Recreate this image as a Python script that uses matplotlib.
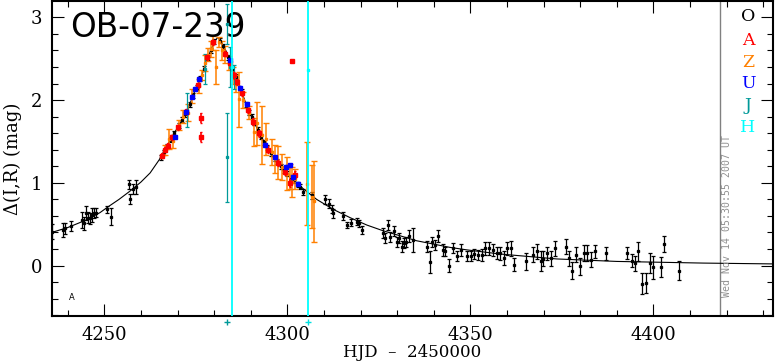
import matplotlib
matplotlib.use("Agg")
import matplotlib.pyplot as plt

# model curve
model_t = [4235.6, 4240, 4245, 4248.8, 4251, 4254, 4257, 4260, 4262.5, 4265,
           4268, 4270.7, 4272.9, 4274.8, 4276.6, 4277.9, 4279.3, 4280.3, 4281.0,
           4282.0, 4283.4, 4284.5, 4285.8, 4287.1, 4288.4, 4289.8, 4291.6, 4293.4,
           4296.1, 4298.9, 4301.6, 4304.3, 4308, 4312.5, 4317.1, 4321.7, 4326.2,
           4330.8, 4335.3, 4339.9, 4344.4, 4349, 4358, 4373.6, 4390, 4413.6, 4432.7]
model_m = [0.40, 0.46, 0.55, 0.64, 0.71, 0.80, 0.90, 1.01, 1.12, 1.28,
           1.52, 1.72, 1.90, 2.12, 2.30, 2.47, 2.63, 2.72, 2.76,
           2.70, 2.58, 2.44, 2.30, 2.16, 1.99, 1.84, 1.67, 1.50,
           1.31, 1.15, 1.04, 0.93, 0.80, 0.68, 0.58, 0.49, 0.42,
           0.36, 0.30, 0.26, 0.22, 0.19, 0.14, 0.08, 0.05, 0.03, 0.02]

# O (black)
o_t = [4235.6, 4238.8, 4239.2, 4240.9, 4244.0, 4244.5, 4245.0, 4245.4, 4246.1, 4246.7,
       4247.2, 4247.7, 4250.8, 4251.8, 4256.7, 4257.0, 4257.7, 4258.6,
       4265.5, 4266.2, 4267.0, 4268.2, 4269.0, 4270.3, 4271.2, 4272.0, 4273.3, 4274.3,
       4275.2, 4276.2, 4277.2, 4278.3, 4279.0, 4280.0, 4281.5, 4282.5,
       4283.8, 4285.0, 4286.0, 4287.5, 4288.8, 4289.6, 4290.2, 4291.0, 4292.0, 4292.8,
       4293.7, 4294.5, 4295.5, 4296.5, 4297.2, 4298.2, 4299.0, 4300.0, 4300.9, 4301.8,
       4302.8, 4303.5, 4304.3, 4306.6,
       4310.3, 4311.5, 4312.1, 4312.4, 4315.3, 4316.4, 4317.3, 4319.1, 4319.6, 4320.3,
       4326.2, 4326.7, 4327.4, 4328.0, 4329.2, 4329.9, 4330.6, 4331.2, 4331.9, 4332.4,
       4333.3, 4334.4, 4338.2, 4338.9, 4339.6, 4340.3, 4341.2, 4342.4, 4343.1, 4344.2,
       4345.2, 4346.3, 4347.4, 4349.2, 4350.1, 4351.0, 4352.2, 4353.1, 4354.0, 4355.2,
       4356.1, 4357.2, 4358.1, 4359.2, 4360.1, 4361.1, 4362.0, 4365.1, 4367.0, 4368.1,
       4369.2, 4369.9, 4371.0, 4372.0, 4373.1, 4376.1, 4377.0, 4377.9, 4379.0, 4380.1,
       4381.0, 4381.9, 4383.1, 4384.0, 4387.0, 4392.9, 4394.1, 4395.0, 4395.9, 4397.0,
       4397.9, 4399.1, 4400.0, 4402.0, 4403.0, 4406.9]
o_m = [0.41, 0.43, 0.45, 0.48, 0.55, 0.51, 0.63, 0.58, 0.57, 0.61,
       0.64, 0.64, 0.68, 0.59, 0.98, 0.81, 0.93, 0.95,
       1.31, 1.37, 1.44, 1.52, 1.60, 1.69, 1.76, 1.83, 1.95, 2.06,
       2.15, 2.26, 2.38, 2.52, 2.60, 2.71, 2.72, 2.65,
       2.52, 2.38, 2.28, 2.10, 1.95, 1.85, 1.80, 1.73, 1.64, 1.56,
       1.49, 1.43, 1.36, 1.30, 1.26, 1.20, 1.15, 1.11, 1.06, 1.03,
       0.98, 0.95, 0.89, 0.85,
       0.80, 0.75, 0.68, 0.63, 0.60, 0.49, 0.52, 0.53, 0.51, 0.43,
       0.39, 0.33, 0.49, 0.35, 0.42, 0.29, 0.33, 0.23, 0.27, 0.29,
       0.36, 0.31, 0.23, 0.04, 0.29, 0.25, 0.36, 0.19, 0.17, 0.00,
       0.21, 0.11, 0.19, 0.11, 0.11, 0.14, 0.13, 0.13, 0.21, 0.21,
       0.19, 0.15, 0.15, 0.09, 0.21, 0.21, 0.01, 0.05, 0.13, 0.17,
       0.05, 0.08, 0.15, 0.09, 0.21, 0.23, 0.09, -0.06, 0.13, -0.01,
       0.15, 0.15, 0.07, 0.17, 0.15, 0.15, 0.06, 0.03, 0.17, -0.22,
       -0.21, 0.03, -0.02, -0.02, 0.26, -0.06]
o_e = [0.09, 0.08, 0.07, 0.06, 0.10, 0.08, 0.085, 0.07, 0.07, 0.08,
       0.06, 0.055, 0.04, 0.10, 0.06, 0.06, 0.06, 0.085,
       0.03, 0.03, 0.03, 0.03, 0.03, 0.03, 0.03, 0.03, 0.03, 0.03,
       0.03, 0.03, 0.03, 0.03, 0.03, 0.03, 0.03, 0.03,
       0.03, 0.03, 0.03, 0.03, 0.03, 0.03, 0.03, 0.03, 0.03, 0.03,
       0.03, 0.03, 0.03, 0.03, 0.03, 0.03, 0.03, 0.03, 0.03, 0.03,
       0.03, 0.03, 0.04, 0.04,
       0.05, 0.06, 0.05, 0.05, 0.05, 0.04, 0.04, 0.04, 0.04, 0.05,
       0.06, 0.06, 0.065, 0.06, 0.06, 0.06, 0.06, 0.07, 0.06, 0.06,
       0.07, 0.15, 0.07, 0.13, 0.06, 0.06, 0.07, 0.07, 0.06, 0.08,
       0.06, 0.06, 0.07, 0.06, 0.06, 0.06, 0.06, 0.07, 0.08, 0.08,
       0.07, 0.07, 0.08, 0.08, 0.08, 0.09, 0.077, 0.10, 0.09, 0.09,
       0.12, 0.09, 0.08, 0.09, 0.09, 0.09, 0.09, 0.10, 0.09, 0.10,
       0.10, 0.10, 0.09, 0.08, 0.08, 0.07, 0.08, 0.09, 0.117, 0.125,
       0.125, 0.117, 0.14, 0.12, 0.095, 0.11]

# A (red)
a_t = [4265.8, 4266.6, 4267.3, 4268.5, 4270.0, 4272.2, 4275.5, 4278.0, 4279.6,
       4276.5, 4276.5, 4301.2,
       4283.0, 4284.2, 4285.3, 4286.3, 4287.5, 4289.3, 4290.5, 4292.2, 4294.8,
       4297.5, 4299.4, 4300.6, 4302.0]
a_m = [1.33, 1.40, 1.45, 1.55, 1.67, 1.86, 2.18, 2.52, 2.70,
       1.78, 1.55, 2.47,
       2.56, 2.45, 2.30, 2.22, 2.08, 1.88, 1.74, 1.60, 1.40,
       1.24, 1.13, 1.00, 1.10]
a_e = [0.03, 0.03, 0.03, 0.03, 0.03, 0.03, 0.03, 0.03, 0.03,
       0.06, 0.06, 0.01,
       0.03, 0.03, 0.04, 0.04, 0.03, 0.03, 0.04, 0.04, 0.04,
       0.04, 0.04, 0.05, 0.04]

# Z (orange)
z_t = [4266.5, 4267.7, 4268.8, 4270.5, 4271.4, 4272.8, 4274.0, 4275.8, 4276.8, 4277.5,
       4278.4, 4279.2, 4279.8, 4280.5, 4281.2, 4282.2, 4283.0,
       4284.0, 4285.2, 4286.0, 4286.7, 4288.0, 4289.5, 4291.0, 4291.6, 4293.0, 4294.2,
       4295.7, 4296.6, 4297.5, 4298.4, 4299.8, 4300.7, 4301.2, 4302.0,
       4305.4, 4306.6, 4307.3]
z_m = [1.40, 1.53, 1.50, 1.70, 1.80, 1.85, 2.05, 2.17, 2.30, 2.45,
       2.55, 2.62, 2.69, 2.40, 2.70, 2.60, 2.55,
       2.45, 2.30, 2.20, 2.01, 2.00, 1.85, 1.61, 1.72, 1.58, 1.53,
       1.37, 1.29, 1.25, 1.19, 1.11, 1.08, 1.01, 1.05,
       0.99, 0.83, 0.78]
z_e = [0.06, 0.12, 0.08, 0.06, 0.08, 0.10, 0.08, 0.08, 0.06, 0.10,
       0.08, 0.10, 0.08, 0.20, 0.06, 0.12, 0.10,
       0.08, 0.10, 0.10, 0.33, 0.10, 0.08, 0.17, 0.26, 0.35, 0.19,
       0.16, 0.17, 0.20, 0.16, 0.20, 0.15, 0.18, 0.12,
       0.50, 0.38, 0.49]

# U (blue)
u_t = [4269.3, 4272.3, 4273.9, 4274.8, 4275.9, 4284.3, 4287.1, 4288.9, 4293.9,
       4296.6, 4299.5, 4300.8, 4301.6, 4303.0]
u_m = [1.56, 1.86, 2.04, 2.14, 2.25, 2.48, 2.15, 1.95, 1.46,
       1.31, 1.19, 1.21, 1.07, 0.99]
u_e = [0.02] * len(u_t)

# J (teal)
j_t = [4272.5, 4277.5, 4283.4, 4283.4, 4284.3, 4285.4]
j_m = [1.88, 2.38, 1.31, 2.92, 2.40, 2.28]
j_e = [0.20, 0.18, 0.54, 0.24, 0.24, 0.15]

# H (cyan)
h_t = [4284.9, 4305.7]
h_m = [2.40, 2.37]
h_e = [6.0, 6.0]

# off-scale marks below the axis
low_t = [4283.4, 4305.7]
low_m = [-0.68, -0.68]

grey_t = 4418.2

fig = plt.figure(figsize=(7.75, 3.62), dpi=100)
ax = fig.add_axes([0.0667, 0.127, 0.9307, 0.870])

ax.plot(model_t, model_m, color='black', lw=0.8, zorder=2)

eb = dict(fmt='s', ms=1.4, elinewidth=0.9, capsize=1.5, capthick=0.9, zorder=3)
ax.errorbar(o_t, o_m, yerr=o_e, color='black', **eb)
ax.errorbar(z_t, z_m, yerr=z_e, color='#ff8000', fmt='s', ms=1.6, elinewidth=1.1,
            capsize=2, capthick=1, zorder=3)
ax.errorbar(j_t, j_m, yerr=j_e, color='#009999', **eb)
ax.errorbar(a_t, a_m, yerr=a_e, color='#ff0000', fmt='s', ms=2.2, elinewidth=1.2,
            capsize=1, capthick=1, zorder=4)
ax.errorbar(u_t, u_m, yerr=u_e, color='#0000ff', fmt='s', ms=2.2, elinewidth=1,
            capsize=1, capthick=1, zorder=4)
ax.errorbar(h_t, h_m, yerr=h_e, color='#00ffff', fmt='s', ms=1.5, elinewidth=1.3,
            capsize=0, zorder=5)
ax.plot(low_t[:1], low_m[:1], '+', color='#009999', ms=4, mew=1, clip_on=False)
ax.plot(low_t[1:], low_m[1:], '+', color='#00e0e0', ms=4, mew=1, clip_on=False)

ax.axvline(grey_t, color='#808080', lw=1, zorder=1)

ax.set_xlim(4235.6, 4432.7)
ax.set_ylim(-0.61, 3.197)
ax.set_xticks([4250, 4300, 4350, 4400])
ax.set_xticks(range(4240, 4440, 10), minor=True)
ax.set_yticks([0, 1, 2, 3])
ax.set_yticks([v / 10 for v in range(-6, 32, 2)], minor=True)
ax.tick_params(which='both', direction='in', top=True, right=True, width=0.8)
ax.tick_params(which='major', length=8.6, pad=7)
ax.tick_params(which='minor', length=4.3)
for lab in ax.get_xticklabels() + ax.get_yticklabels():
    lab.set_family('DejaVu Serif')
    lab.set_fontsize(13)
for sp in ax.spines.values():
    sp.set_linewidth(1.5)

ax.set_xlabel('HJD  \u2013  2450000', family='DejaVu Serif', fontsize=12,
              va='baseline')
ax.xaxis.set_label_coords(0.5, -0.130)
ax.set_ylabel('\u0394(I,R) (mag)', family='DejaVu Serif', fontsize=13, labelpad=6)

ax.text(0.025, 0.886, 'OB-07-239', transform=ax.transAxes, fontsize=23.5,
        family='DejaVu Sans', va='baseline', ha='left')

leg_letters = ['O', 'A', 'Z', 'U', 'J', 'H']
leg_colors = ['black', '#ff0000', '#ff8000', '#0000ff', '#009999', '#00ffff']
leg_y = [16, 40, 62, 83, 105, 127]
for s, c, yp in zip(leg_letters, leg_colors, leg_y):
    ax.text(0.9654, (316 - yp) / 315, s, transform=ax.transAxes, color=c,
            fontsize=12.5, family='DejaVu Serif', ha='center', va='center')

ax.text(0.9358, 0.060, 'Wed Nov 14 05:30:55 2007 UT', transform=ax.transAxes,
        rotation=90, ha='center', va='bottom', fontsize=7.1,
        family='DejaVu Sans Mono', color='#909090')
ax.text(4241.1, -0.39, 'A', fontsize=6, ha='center', va='center')

fig.savefig('out.png', dpi=100)
